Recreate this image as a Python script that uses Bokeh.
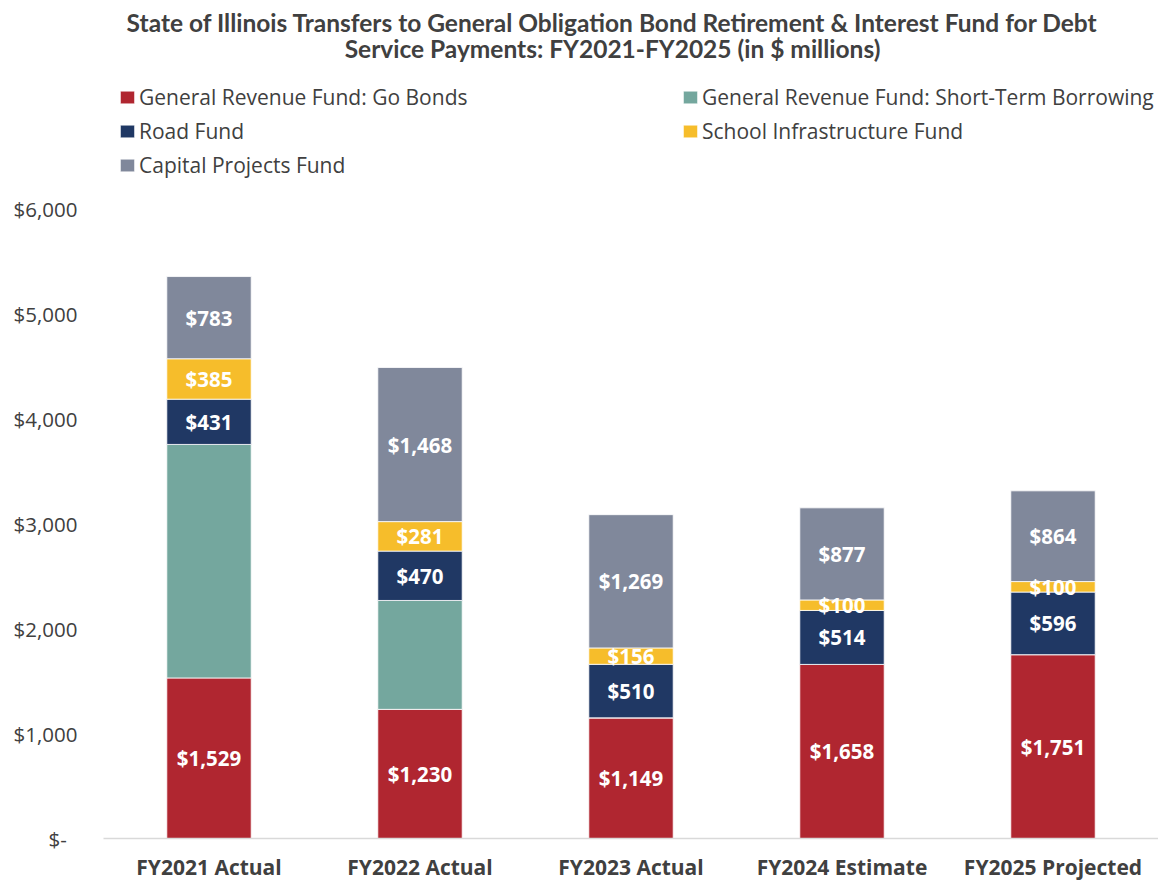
from bokeh.plotting import figure
from bokeh.models import (FactorRange, Range1d, FixedTicker, Legend, LegendItem,
                          ColumnDataSource, Label)
from bokeh.core.properties import value
from bokeh.embed import file_html
from bokeh.resources import INLINE

categories = ["FY2021 Actual", "FY2022 Actual", "FY2023 Actual", "FY2024 Estimate", "FY2025 Projected"]
go_bonds = [1529, 1230, 1149, 1658, 1751]
short_term = [2224, 1037, 0, 0, 0]
road_fund = [431, 470, 510, 514, 596]
school_fund = [385, 281, 156, 100, 100]
capital_fund = [783, 1468, 1269, 877, 864]

series_keys = ["go", "st", "road", "school", "cap"]
series_names = ["General Revenue Fund: Go Bonds", "General Revenue Fund: Short-Term Borrowing",
                "Road Fund", "School Infrastructure Fund", "Capital Projects Fund"]
series_values = [go_bonds, short_term, road_fund, school_fund, capital_fund]
labeled = [True, False, True, True, True]
colors = ["#B02630", "#74A79E", "#203864", "#F6BD2B", "#80889B"]
y_ticks = [0, 1000, 2000, 3000, 4000, 5000, 6000]
y_tick_labels = ["$-\u00a0\u00a0", "$1,000", "$2,000", "$3,000", "$4,000", "$5,000", "$6,000"]
title_lines = ["State of Illinois Transfers to General Obligation Bond Retirement & Interest Fund for Debt",
               "Service Payments: FY2021-FY2025 (in $ millions)"]

TXT = "#404040"

data = dict(cat=categories)
for k, v in zip(series_keys, series_values):
    data[k] = v
src = ColumnDataSource(data)

p = figure(x_range=FactorRange(*categories), y_range=Range1d(0, 7981),
           width=1158, height=883,
           output_backend="svg", toolbar_location=None,
           min_border_left=103, min_border_right=0, min_border_top=0, min_border_bottom=45)

renderers = p.vbar_stack(series_keys, x="cat", width=0.4, source=src, color=colors,
                         line_color="white", line_width=0.8)

# segment labels
lx, ly, lt = [], [], []
bottoms = [0] * len(categories)
for vals, show in zip(series_values, labeled):
    for i, v in enumerate(vals):
        if show and v > 0:
            lx.append(categories[i])
            ly.append(bottoms[i] + v / 2)
            lt.append("${:,}".format(v))
        bottoms[i] += v
lsrc = ColumnDataSource(dict(x=lx, y=ly, t=lt))
p.text(x="x", y="y", text="t", source=lsrc, text_align="center", text_baseline="middle",
       text_font=value("Open Sans"), text_font_style="bold", text_font_size="20.5px",
       text_color="white")

# title (two centred lines)
for txt, ty in zip(title_lines, (816, 790)):
    p.add_layout(Label(x=509, y=ty, x_units="screen", y_units="screen", text=txt,
                       text_align="center", text_baseline="middle", text_font="Lato",
                       text_font_size="24.5px", text_font_style="bold", text_color=TXT))

items = [LegendItem(label=n, renderers=[r]) for n, r in zip(series_names, renderers)]
for idxs, loc in (([0, 2, 4], (15, 656)), ([1, 3], (578, 690))):
    leg = Legend(items=[items[i] for i in idxs], location=loc, orientation="vertical",
                 glyph_width=18, glyph_height=16, label_standoff=3, label_height=34,
                 spacing=0, padding=0, margin=0, border_line_color=None,
                 background_fill_alpha=0, label_text_font="Open Sans",
                 label_text_font_size="21px", label_text_color=TXT)
    p.add_layout(leg, "center")

p.xgrid.visible = False
p.ygrid.visible = False
p.outline_line_color = None

p.xaxis.axis_line_color = "#D9D9D9"
p.xaxis.axis_line_width = 1.5
p.xaxis.major_tick_line_color = None
p.xaxis.minor_tick_line_color = None
p.xaxis.major_label_standoff = 8
p.xaxis.major_label_text_font = "Open Sans"
p.xaxis.major_label_text_font_style = "bold"
p.xaxis.major_label_text_font_size = "21px"
p.xaxis.major_label_text_color = TXT

p.yaxis.ticker = FixedTicker(ticks=y_ticks)
p.yaxis.major_label_overrides = {t: l for t, l in zip(y_ticks, y_tick_labels)}
p.yaxis.axis_line_color = None
p.yaxis.major_tick_line_color = None
p.yaxis.minor_tick_line_color = None
p.yaxis.major_label_standoff = 20
p.yaxis.major_label_text_font = "Open Sans"
p.yaxis.major_label_text_font_size = "20.5px"
p.yaxis.major_label_text_color = TXT

open("out.html", "w").write(file_html(p, INLINE))
